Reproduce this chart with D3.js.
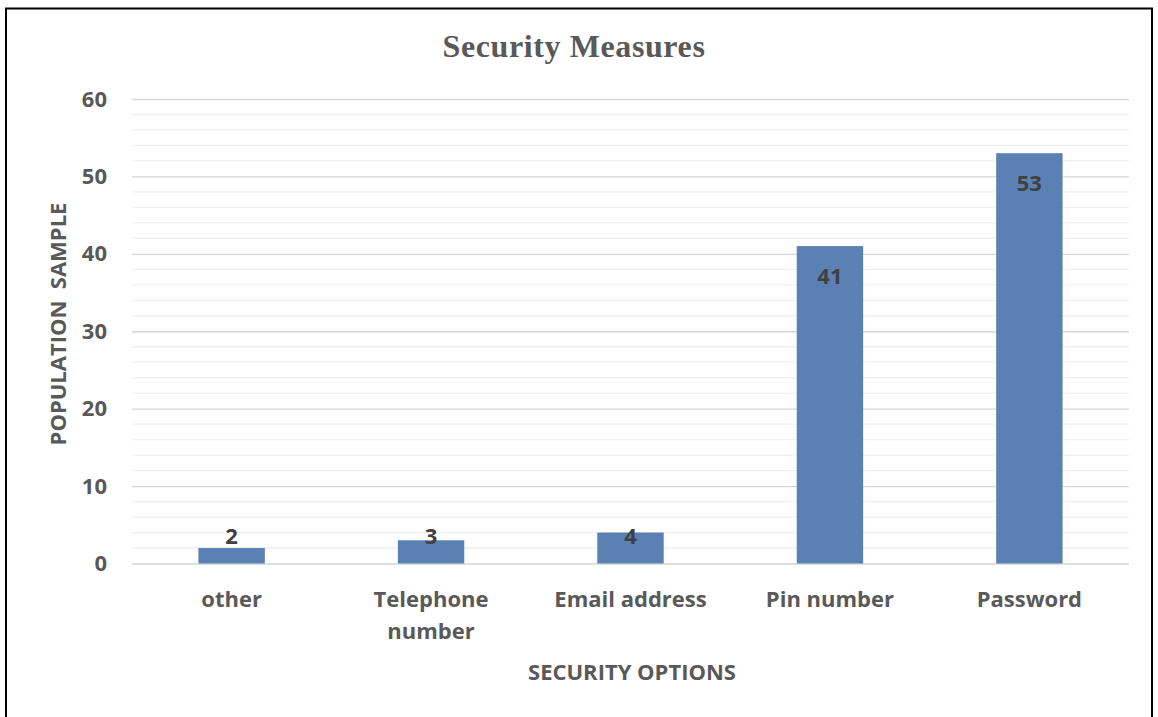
<!DOCTYPE html>
<html>
<head>
<meta charset="utf-8">
<script src="https://cdn.jsdelivr.net/npm/d3@7"></script>
<style>
  html, body { margin: 0; padding: 0; background: #fff; }
  svg { display: block; }
</style>
</head>
<body>
<svg id="chart" width="1158" height="717"></svg>
<script>
// Survey results: preferred security measures
const categories = [["other"], ["Telephone", "number"], ["Email address"], ["Pin number"], ["Password"]];
const values = [2, 3, 4, 41, 53];
const yTicks = [0, 10, 20, 30, 40, 50, 60];
const minorTicks = d3.range(0, 61, 2);

const title = "Security Measures";
const xTitle = "SECURITY OPTIONS";
const yTitle = "POPULATION\u00a0\u00a0SAMPLE";

const W = 1158, H = 717;
const plot = { left: 132, right: 1129, top: 99, bottom: 563.5 };
const textColor = "#595959";
const labelColor = "#404040";
const barColor = "#5b80b4";
const sans = "'Open Sans', sans-serif";

const svg = d3.select("#chart");

// outer frame
svg.append("rect")
  .attr("x", 6).attr("y", 8.5)
  .attr("width", 1146).attr("height", 720)
  .attr("fill", "none").attr("stroke", "#000").attr("stroke-width", 2);

const x = d3.scaleBand()
  .domain(d3.range(categories.length))
  .range([plot.left, plot.right])
  .paddingInner(0.667).paddingOuter(0.333);

const y = d3.scaleLinear().domain([0, 60]).range([plot.bottom, plot.top]);

// minor gridlines
svg.append("g").selectAll("line")
  .data(minorTicks.filter(v => v % 10 !== 0))
  .join("line")
  .attr("x1", plot.left).attr("x2", plot.right)
  .attr("y1", d => y(d)).attr("y2", d => y(d))
  .attr("stroke", "#efefef").attr("stroke-width", 1.3);

// major gridlines and y axis labels
const yAxis = d3.axisLeft(y).tickValues(yTicks).tickSize(-(plot.right - plot.left)).tickPadding(25);
const gy = svg.append("g").attr("transform", `translate(${plot.left},0)`).call(yAxis);
gy.select(".domain").remove();
gy.selectAll(".tick line").attr("stroke", "#d6d6d6").attr("stroke-width", 1.4);
gy.selectAll(".tick text")
  .attr("fill", textColor)
  .style("font-family", sans).style("font-weight", "bold").style("font-size", "22px");

// bars
svg.append("g").selectAll("rect")
  .data(values)
  .join("rect")
  .attr("x", (d, i) => x(i))
  .attr("width", x.bandwidth())
  .attr("y", d => y(d))
  .attr("height", d => y(0) - y(d))
  .attr("fill", barColor);

// value labels (inside end, held above the baseline for short bars)
svg.append("g").selectAll("text")
  .data(values)
  .join("text")
  .attr("x", (d, i) => x(i) + x.bandwidth() / 2)
  .attr("y", d => Math.min(y(d) + 30, y(0) - 27))
  .attr("dy", "0.36em")
  .attr("text-anchor", "middle")
  .attr("fill", labelColor)
  .style("font-family", sans).style("font-weight", "bold").style("font-size", "22px")
  .text(d => d);

// category labels
const cat = svg.append("g").selectAll("text")
  .data(categories)
  .join("text")
  .attr("x", (d, i) => x(i) + x.bandwidth() / 2)
  .attr("y", 607)
  .attr("text-anchor", "middle")
  .attr("fill", textColor)
  .style("font-family", sans).style("font-weight", "bold").style("font-size", "22px");
cat.selectAll("tspan")
  .data(d => d)
  .join("tspan")
  .attr("x", function () { return this.parentNode.getAttribute("x"); })
  .attr("dy", (d, i) => i === 0 ? 0 : 32)
  .text(d => d);

// title
svg.append("text")
  .attr("x", 574).attr("y", 57)
  .attr("text-anchor", "middle")
  .attr("fill", textColor)
  .style("font-family", "'Liberation Serif', serif").style("font-weight", "bold")
  .style("font-size", "32px").style("letter-spacing", "0.6px")
  .text(title);

// axis titles
svg.append("text")
  .attr("x", 632).attr("y", 680)
  .attr("text-anchor", "middle")
  .attr("fill", textColor)
  .style("font-family", sans).style("font-weight", "bold").style("font-size", "22px")
  .text(xTitle);

svg.append("text")
  .attr("transform", "translate(66,324) rotate(-90)")
  .attr("text-anchor", "middle")
  .attr("fill", textColor)
  .style("font-family", sans).style("font-weight", "bold").style("font-size", "22px")
  .text(yTitle);
</script>
</body>
</html>
